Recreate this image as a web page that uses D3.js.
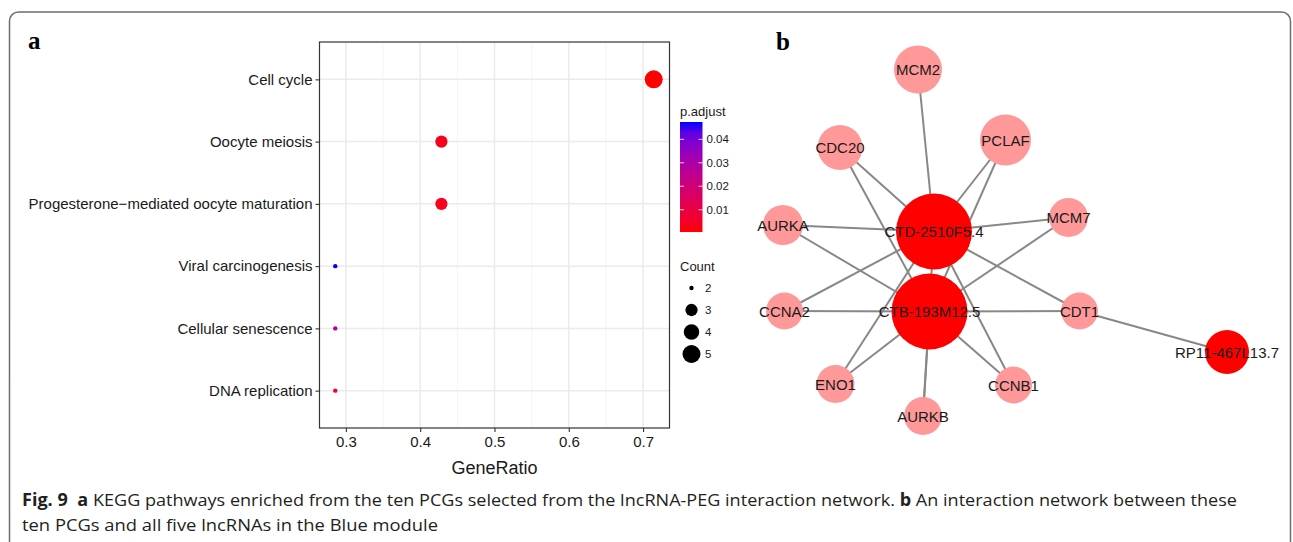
<!doctype html>
<meta charset="utf-8">
<script src="https://d3js.org/d3.v7.min.js"></script>
<style>
  body { margin: 0; background: #fff; }
  text { font-family: "Liberation Sans", Arial, sans-serif; }
</style>
<body></body>
<script>

var width = 1293;
var height = 542;

// panel a: KEGG enrichment
var pathways = ["Cell cycle", "Oocyte meiosis", "Progesterone\u2212mediated oocyte maturation",
    "Viral carcinogenesis", "Cellular senescence", "DNA replication"];
var geneRatio = [5 / 7, 3 / 7, 3 / 7, 2 / 7, 2 / 7, 2 / 7];
var counts = [5, 3, 3, 2, 2, 2];
var pAdjust = [0.0005, 0.003, 0.0032, 0.0474, 0.029, 0.005];
var xTicks = [0.3, 0.4, 0.5, 0.6, 0.7];
var pTicks = [0.01, 0.02, 0.03, 0.04];
var countTicks = [2, 3, 4, 5];

// panel b: interaction network (layout units from the original network view)
var nodeNames = ["MCM2", "PCLAF", "CDC20", "AURKA", "MCM7", "CTD-2510F5.4", "CTB-193M12.5",
    "CCNA2", "CDT1", "RP11-467L13.7", "ENO1", "CCNB1", "AURKB"];
var nodeType = ["pcg", "pcg", "pcg", "pcg", "pcg", "lnc", "lnc", "pcg", "pcg", "lnc", "pcg", "pcg", "pcg"];
var layoutX = [31.6, 49.1, 16.0, 4.6, 61.7, 34.8, 33.9, 4.9, 63.9, 93.4, 15.1, 50.7, 32.6];
var layoutY = [5.9, 20.0, 21.5, 37.0, 35.5, 38.3, 54.3, 54.2, 54.2, 62.4, 68.8, 69.0, 75.2];
var nodeWeight = [48, 51, 45, 40, 39, 76, 76, 37, 37, 44, 38, 37, 38];
var edges = [
    ["MCM2", "CTD-2510F5.4"],
    ["PCLAF", "CTD-2510F5.4"], ["PCLAF", "CTB-193M12.5"],
    ["CDC20", "CTD-2510F5.4"], ["CDC20", "CTB-193M12.5"],
    ["AURKA", "CTD-2510F5.4"], ["AURKA", "CTB-193M12.5"],
    ["MCM7", "CTD-2510F5.4"], ["MCM7", "CTB-193M12.5"],
    ["CCNA2", "CTD-2510F5.4"], ["CCNA2", "CTB-193M12.5"],
    ["CDT1", "CTD-2510F5.4"], ["CDT1", "CTB-193M12.5"], ["CDT1", "RP11-467L13.7"],
    ["ENO1", "CTD-2510F5.4"], ["ENO1", "CTB-193M12.5"],
    ["CCNB1", "CTD-2510F5.4"], ["CCNB1", "CTB-193M12.5"],
    ["AURKB", "CTD-2510F5.4"], ["AURKB", "CTB-193M12.5"]
];

var svg = d3.select("body")
        .append("svg")
        .attr("width", width)
        .attr("height", height);

// outer frame
svg.append("rect")
        .attr("x", 9.5).attr("y", 12)
        .attr("width", 1281).attr("height", 620)
        .attr("rx", 9)
        .attr("fill", "none")
        .attr("stroke", "#6e6e6e")
        .attr("stroke-width", 1.5);

// ---------- panel a ----------
var panel = {left: 319.5, right: 669.5, top: 42, bottom: 428};

var x = d3.scaleLinear()
        .domain([0.2645, 0.7355])
        .range([panel.left, panel.right]);

var y = d3.scalePoint()
        .domain(pathways)
        .range([panel.top, panel.bottom])
        .padding(0.6);

var pExtent = d3.extent(pAdjust);
var color = d3.scaleLinear()
        .domain(pExtent)
        .range(["red", "blue"])
        .interpolate(d3.interpolateLab);

var sizeScale = d3.scaleSqrt()
        .domain([0, 3])
        .range([0, 6.8]);
function radius(c) { return 2.2 + sizeScale(c - 2); }

var rows = pathways.map(function(p, i){
    return {name: p, ratio: geneRatio[i], count: counts[i], p: pAdjust[i]};
});

var gA = svg.append("g");

// minor grid
var minor = d3.range(0.25, 0.75, 0.1).map(function(v){ return +v.toFixed(2); })
        .filter(function(v){ return v > x.domain()[0] && v < x.domain()[1]; });
gA.selectAll(".minor")
        .data(minor)
        .enter().append("line")
        .attr("x1", function(d){ return x(d); })
        .attr("x2", function(d){ return x(d); })
        .attr("y1", panel.top).attr("y2", panel.bottom)
        .attr("stroke", "#f1f1f1").attr("stroke-width", 0.8);

gA.selectAll(".vmajor")
        .data(xTicks)
        .enter().append("line")
        .attr("x1", function(d){ return x(d); })
        .attr("x2", function(d){ return x(d); })
        .attr("y1", panel.top).attr("y2", panel.bottom)
        .attr("stroke", "#ebebeb").attr("stroke-width", 1.5);

gA.selectAll(".hmajor")
        .data(pathways)
        .enter().append("line")
        .attr("x1", panel.left).attr("x2", panel.right)
        .attr("y1", function(d){ return y(d); })
        .attr("y2", function(d){ return y(d); })
        .attr("stroke", "#ebebeb").attr("stroke-width", 1.5);

gA.selectAll("circle")
        .data(rows)
        .enter().append("circle")
        .attr("cx", function(d){ return x(d.ratio); })
        .attr("cy", function(d){ return y(d.name); })
        .attr("r", function(d){ return radius(d.count); })
        .attr("fill", function(d){ return color(d.p); });

gA.append("rect")
        .attr("x", panel.left).attr("y", panel.top)
        .attr("width", panel.right - panel.left)
        .attr("height", panel.bottom - panel.top)
        .attr("fill", "none")
        .attr("stroke", "#333").attr("stroke-width", 1.2);

var xAxis = gA.append("g")
        .attr("transform", "translate(0," + panel.bottom + ")")
        .call(d3.axisBottom(x).tickValues(xTicks).tickSize(4).tickPadding(4).tickFormat(d3.format(".1f")));
var yAxis = gA.append("g")
        .attr("transform", "translate(" + panel.left + ",0)")
        .call(d3.axisLeft(y).tickSize(4).tickPadding(3));
[xAxis, yAxis].forEach(function(ax){
    ax.select(".domain").remove();
    ax.selectAll(".tick line").attr("stroke", "#333").attr("stroke-width", 1.1);
    ax.selectAll(".tick text")
            .attr("fill", "#1a1a1a")
            .style("font-family", "'Liberation Sans', Arial, sans-serif")
            .style("font-size", "15px");
});

gA.append("text")
        .attr("x", (panel.left + panel.right) / 2)
        .attr("y", 474)
        .attr("text-anchor", "middle")
        .attr("fill", "#1a1a1a")
        .style("font-size", "18px")
        .text("GeneRatio");

// colour bar legend
var bar = {x: 680, y: 122, w: 22.5, h: 110};
var defs = svg.append("defs");
var grad = defs.append("linearGradient")
        .attr("id", "pgrad")
        .attr("x1", 0).attr("y1", 1).attr("x2", 0).attr("y2", 0);
d3.range(0, 1.0001, 0.1).forEach(function(t){
    grad.append("stop")
            .attr("offset", t)
            .attr("stop-color", color(pExtent[0] + t * (pExtent[1] - pExtent[0])));
});

var barY = d3.scaleLinear()
        .domain(pExtent)
        .range([bar.y + bar.h, bar.y]);

gA.append("text")
        .attr("x", bar.x).attr("y", 116)
        .attr("fill", "#1a1a1a")
        .style("font-size", "13px")
        .text("p.adjust");

gA.append("rect")
        .attr("x", bar.x).attr("y", bar.y)
        .attr("width", bar.w).attr("height", bar.h)
        .attr("fill", "url(#pgrad)");

var pt = gA.selectAll(".ptick")
        .data(pTicks)
        .enter().append("g");
pt.append("line")
        .attr("x1", bar.x).attr("x2", bar.x + 4)
        .attr("y1", function(d){ return barY(d); })
        .attr("y2", function(d){ return barY(d); })
        .attr("stroke", "#fff").attr("stroke-opacity", 0.8);
pt.append("line")
        .attr("x1", bar.x + bar.w - 4).attr("x2", bar.x + bar.w)
        .attr("y1", function(d){ return barY(d); })
        .attr("y2", function(d){ return barY(d); })
        .attr("stroke", "#fff").attr("stroke-opacity", 0.8);
pt.append("text")
        .attr("x", bar.x + bar.w + 4)
        .attr("y", function(d){ return barY(d) + 4; })
        .attr("fill", "#1a1a1a")
        .style("font-size", "11.5px")
        .text(function(d){ return d.toFixed(2); });

// size legend
gA.append("text")
        .attr("x", bar.x).attr("y", 271)
        .attr("fill", "#1a1a1a")
        .style("font-size", "13px")
        .text("Count");

var keyY = d3.scalePoint()
        .domain(countTicks)
        .range([288, 354]);
var kt = gA.selectAll(".ckey")
        .data(countTicks)
        .enter().append("g");
kt.append("circle")
        .attr("cx", 691.5)
        .attr("cy", function(d){ return keyY(d); })
        .attr("r", radius)
        .attr("fill", "#000");
kt.append("text")
        .attr("x", 705)
        .attr("y", function(d){ return keyY(d) + 4; })
        .attr("fill", "#1a1a1a")
        .style("font-size", "11.5px")
        .text(function(d){ return d; });

// ---------- panel b ----------
var nx = d3.scaleLinear().domain([0, 100]).range([760, 1260]);
var ny = d3.scaleLinear().domain([0, 80]).range([40, 440]);
var nr = d3.scaleLinear().domain([0, 100]).range([0, 50]);

var nodes = nodeNames.map(function(n, i){
    return {id: n, type: nodeType[i], x: layoutX[i], y: layoutY[i], w: nodeWeight[i]};
});
var byId = {};
nodes.forEach(function(d){ byId[d.id] = d; });

var gB = svg.append("g");

gB.selectAll("line")
        .data(edges)
        .enter().append("line")
        .attr("x1", function(d){ return nx(byId[d[0]].x); })
        .attr("y1", function(d){ return ny(byId[d[0]].y); })
        .attr("x2", function(d){ return nx(byId[d[1]].x); })
        .attr("y2", function(d){ return ny(byId[d[1]].y); })
        .attr("stroke", "#888")
        .attr("stroke-width", 2);

gB.selectAll("circle")
        .data(nodes)
        .enter().append("circle")
        .attr("cx", function(d){ return nx(d.x); })
        .attr("cy", function(d){ return ny(d.y); })
        .attr("r", function(d){ return nr(d.w); })
        .attr("fill", function(d){ return d.type == "lnc" ? "#ff0000" : "#ff9999"; });

gB.selectAll("text")
        .data(nodes)
        .enter().append("text")
        .attr("x", function(d){ return nx(d.x); })
        .attr("y", function(d){ return ny(d.y) + 5.5; })
        .attr("text-anchor", "middle")
        .attr("fill", "#1a1a1a")
        .style("font-size", "15px")
        .text(function(d){ return d.id; });

// panel letters
svg.append("text")
        .attr("x", 28).attr("y", 49)
        .style("font-family", "'Liberation Serif', 'Times New Roman', serif")
        .style("font-weight", "bold")
        .style("font-size", "25px")
        .text("a");
svg.append("text")
        .attr("x", 776).attr("y", 50)
        .style("font-family", "'Liberation Serif', 'Times New Roman', serif")
        .style("font-weight", "bold")
        .style("font-size", "25px")
        .text("b");

// caption
var cap1 = svg.append("text")
        .attr("x", 22).attr("y", 506)
        .attr("textLength", 1215)
        .attr("lengthAdjust", "spacingAndGlyphs")
        .attr("fill", "#231f20")
        .style("font-family", "'Open Sans', sans-serif")
        .style("font-size", "17px");
cap1.append("tspan").style("font-weight", "bold").text("Fig. 9");
cap1.append("tspan").attr("dx", 9).style("font-weight", "bold").text("a");
cap1.append("tspan").text(" KEGG pathways enriched from the ten PCGs selected from the lncRNA-PEG interaction network. ");
cap1.append("tspan").style("font-weight", "bold").text("b");
cap1.append("tspan").text(" An interaction network between these");

svg.append("text")
        .attr("x", 22).attr("y", 531)
        .attr("textLength", 416)
        .attr("lengthAdjust", "spacingAndGlyphs")
        .attr("fill", "#231f20")
        .style("font-family", "'Open Sans', sans-serif")
        .style("font-size", "17px")
        .text("ten PCGs and all five lncRNAs in the Blue module");

</script>
